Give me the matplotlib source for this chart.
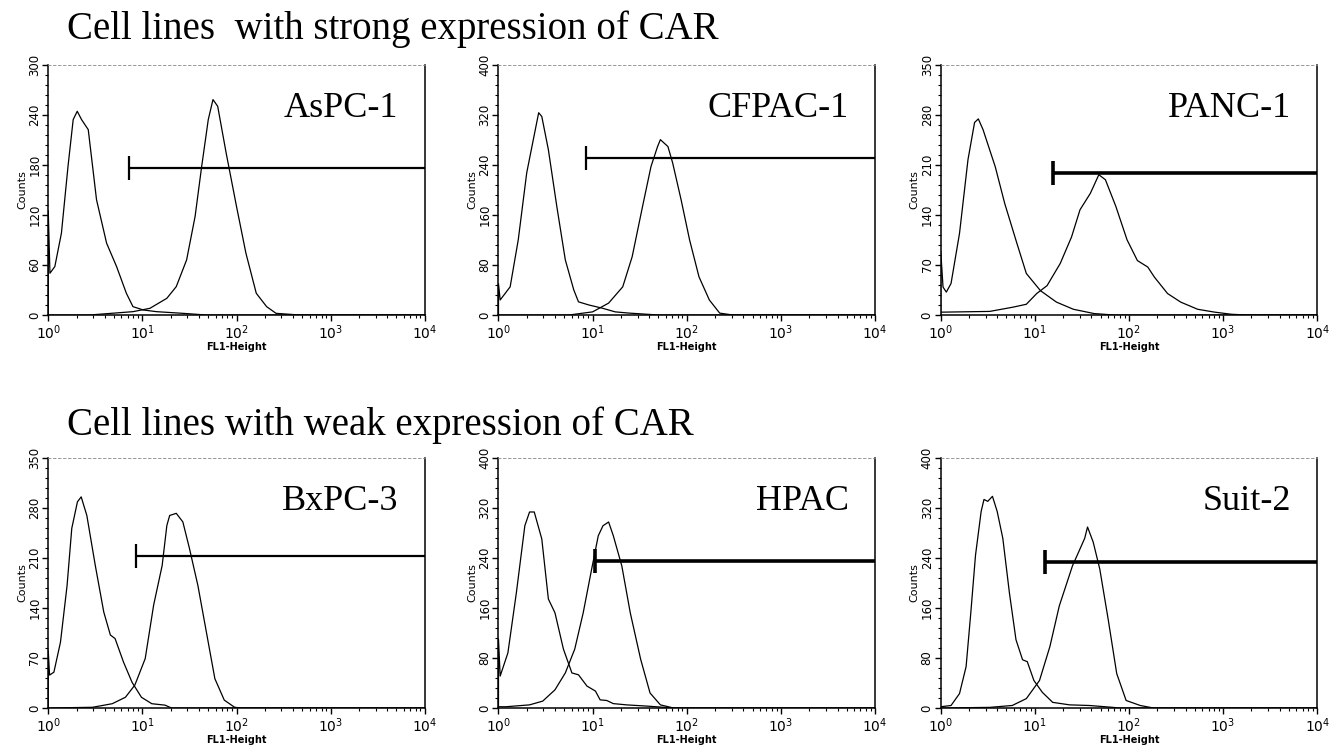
"""
Flow cytometry histograms: CAR expression in six pancreatic cancer cell lines.
Each panel: control (left peak) and anti-CAR stained (right peak), with gate bar.
"""

import numpy as np
import matplotlib
matplotlib.use("Agg")
import matplotlib.pyplot as plt
from matplotlib.ticker import LogLocator, AutoMinorLocator, FixedLocator, NullFormatter

# ── Data (x as log10 FL1-Height, y as counts) ────────────────────────────────
NAMES = ["AsPC-1", "CFPAC-1", "PANC-1", "BxPC-3", "HPAC", "Suit-2"]
YMAX = [300, 400, 350, 350, 400, 400]
YSTEP = [60, 80, 70, 70, 80, 80]

# gate bar: start position (FL1) and height (counts)
GATE_START = [7.2, 8.5, 15.7, 8.5, 10.6, 12.8]
GATE_Y = [176, 250, 198, 213, 235, 233]
GATE_LW = [1.6, 1.6, 2.6, 1.6, 2.6, 2.6]

aspc1_ctrl_x = [0.0, 0.0, 0.018, 0.07, 0.14, 0.21, 0.265, 0.308, 0.354, 0.425, 0.513,
                0.62, 0.726, 0.83, 0.9, 1.01, 1.15, 1.43, 1.68, 4.0]
aspc1_ctrl_y = [0, 125, 50, 58, 98, 178, 234, 244, 234, 222, 138,
                86, 58, 26, 10, 6, 4, 2, 0, 0]
aspc1_car_x = [0.0, 0.44, 0.9, 1.08, 1.26, 1.36, 1.47, 1.56, 1.63, 1.70, 1.75, 1.80,
               1.89, 2.0, 2.1, 2.21, 2.32, 2.42, 2.67, 4.0]
aspc1_car_y = [0, 0, 4, 8, 20, 34, 66, 118, 178, 234, 258, 250,
               194, 130, 74, 26, 10, 2, 0, 0]

cfpac1_ctrl_x = [0.0, 0.0, 0.018, 0.124, 0.21, 0.30, 0.37, 0.427, 0.46, 0.53, 0.62,
                 0.71, 0.80, 0.85, 0.96, 1.10, 1.24, 1.39, 1.7, 4.0]
cfpac1_ctrl_y = [0, 50, 24, 45, 120, 227, 280, 323, 317, 264, 173,
                 88, 40, 21, 16, 11, 5, 3, 0, 0]
cfpac1_car_x = [0.0, 0.75, 1.0, 1.17, 1.32, 1.42, 1.53, 1.62, 1.69, 1.72, 1.80, 1.85,
                1.94, 2.03, 2.13, 2.24, 2.35, 2.49, 4.0]
cfpac1_car_y = [0, 0, 5, 19, 45, 93, 173, 237, 269, 280, 269, 243,
                184, 120, 61, 24, 3, 0, 0]

panc1_ctrl_x = [0.0, 0.0, 0.025, 0.06, 0.11, 0.2, 0.29, 0.36, 0.40, 0.45, 0.58, 0.68,
                0.81, 0.91, 1.06, 1.23, 1.41, 1.63, 1.84, 4.0]
panc1_ctrl_y = [0, 90, 39, 32, 44, 114, 217, 269, 274, 259, 207, 156,
                100, 58, 34, 18, 8, 2, 0, 0]
panc1_car_x = [0.0, 0.025, 0.52, 0.77, 0.91, 1.02, 1.13, 1.27, 1.39, 1.48, 1.59, 1.68,
               1.75, 1.86, 1.98, 2.09, 2.2, 2.27, 2.41, 2.55, 2.73, 2.91, 3.09, 3.26, 4.0]
panc1_car_y = [4, 4, 5, 11, 15, 30, 41, 72, 109, 147, 170, 196,
               189, 152, 105, 76, 67, 53, 30, 18, 8, 4, 1, 0, 0]

bxpc3_ctrl_x = [0.0, 0.0, 0.014, 0.06, 0.13, 0.2, 0.25, 0.31, 0.35, 0.41, 0.50, 0.59,
                0.66, 0.71, 0.80, 0.89, 0.99, 1.10, 1.24, 1.31, 4.0]
bxpc3_ctrl_y = [0, 80, 46, 50, 92, 171, 251, 288, 295, 269, 199, 134,
                102, 97, 64, 36, 15, 6, 4, 0, 0]
bxpc3_car_x = [0.0, 0.47, 0.68, 0.82, 0.92, 1.03, 1.12, 1.21, 1.26, 1.29, 1.36, 1.43,
               1.50, 1.59, 1.68, 1.77, 1.87, 1.98, 2.05, 4.0]
bxpc3_car_y = [0, 1, 6, 15, 32, 69, 144, 199, 255, 269, 272, 260,
               223, 171, 106, 41, 11, 1, 0, 0]

hpac_ctrl_x = [0.0, 0.0, 0.018, 0.1, 0.19, 0.28, 0.33, 0.38, 0.46, 0.53, 0.60, 0.69,
               0.78, 0.85, 0.94, 1.03, 1.08, 1.15, 1.22, 1.36, 1.58, 1.86, 4.0]
hpac_ctrl_y = [0, 110, 51, 88, 184, 291, 313, 313, 270, 174, 152, 94,
               56, 53, 35, 27, 13, 12, 7, 5, 3, 0, 0]
hpac_car_x = [0.0, 0.08, 0.33, 0.47, 0.60, 0.71, 0.81, 0.90, 0.99, 1.06, 1.11, 1.17,
              1.22, 1.31, 1.40, 1.51, 1.61, 1.72, 1.86, 4.0]
hpac_car_y = [2, 2, 5, 11, 29, 56, 94, 152, 222, 275, 291, 297,
              275, 227, 152, 78, 24, 5, 0, 0]

suit2_ctrl_x = [0.0, 0.11, 0.2, 0.27, 0.32, 0.37, 0.43, 0.46, 0.50, 0.55, 0.60, 0.66,
                0.73, 0.80, 0.87, 0.92, 0.99, 1.08, 1.19, 1.37, 1.58, 1.83, 1.90, 4.0]
suit2_ctrl_y = [2, 4, 23, 66, 152, 244, 314, 333, 330, 338, 314, 271,
                184, 109, 77, 74, 44, 25, 9, 5, 4, 1, 0, 0]
suit2_car_x = [0.0, 0.52, 0.76, 0.91, 1.05, 1.16, 1.26, 1.33, 1.40, 1.48, 1.53, 1.56,
               1.62, 1.69, 1.78, 1.87, 1.97, 2.12, 2.26, 4.0]
suit2_car_y = [0, 1, 4, 15, 44, 98, 163, 195, 227, 254, 271, 289,
               265, 222, 141, 55, 12, 4, 0, 0]

CTRL = [(aspc1_ctrl_x, aspc1_ctrl_y), (cfpac1_ctrl_x, cfpac1_ctrl_y),
        (panc1_ctrl_x, panc1_ctrl_y), (bxpc3_ctrl_x, bxpc3_ctrl_y),
        (hpac_ctrl_x, hpac_ctrl_y), (suit2_ctrl_x, suit2_ctrl_y)]
CAR = [(aspc1_car_x, aspc1_car_y), (cfpac1_car_x, cfpac1_car_y),
       (panc1_car_x, panc1_car_y), (bxpc3_car_x, bxpc3_car_y),
       (hpac_car_x, hpac_car_y), (suit2_car_x, suit2_car_y)]

TITLES = ["Cell lines  with strong expression of CAR",
          "Cell lines with weak expression of CAR"]

# ── Layout (figure fractions) ────────────────────────────────────────────────
LEFTS = [0.036, 0.372, 0.702]
BOTTOMS = [0.580, 0.056]
W, H = 0.281, 0.334

SERIF = ["Liberation Serif", "DejaVu Serif"]

fig = plt.figure(figsize=(13.4, 7.5), dpi=100)
fig.patch.set_facecolor("white")

for i, name in enumerate(NAMES):
    row, col = divmod(i, 3)
    ax = fig.add_axes([LEFTS[col], BOTTOMS[row], W, H])

    for (lx, cy) in (CTRL[i], CAR[i]):
        ax.plot(10 ** np.asarray(lx), cy, color="black", lw=0.9)

    # gate bar with end cap
    ax.plot([GATE_START[i], 1e4], [GATE_Y[i], GATE_Y[i]], color="black",
            lw=GATE_LW[i], solid_capstyle="butt", clip_on=False)
    ax.plot([GATE_START[i]], [GATE_Y[i]], marker="|", color="black",
            ms=17, mew=GATE_LW[i])

    ax.set_xscale("log")
    ax.set_xlim(1, 1e4)
    ax.set_ylim(0, YMAX[i])

    ax.xaxis.set_minor_locator(LogLocator(base=10, subs=np.arange(2, 10), numticks=20))
    ax.xaxis.set_minor_formatter(NullFormatter())
    ax.set_xticks([1, 10, 100, 1000, 10000])
    ax.set_xticklabels([r"$10^0$", r"$10^1$", r"$10^2$", r"$10^3$", r"$10^4$"],
                       fontsize=10)
    ax.yaxis.set_major_locator(FixedLocator(np.arange(0, YMAX[i] + 1, YSTEP[i])))
    ax.yaxis.set_minor_locator(AutoMinorLocator(5))
    for lab in ax.get_yticklabels():
        lab.set_rotation(90)
        lab.set_va("center")
        lab.set_fontsize(8.5)

    ax.tick_params(axis="both", which="major", direction="out", length=4,
                   width=1.0, pad=2)
    ax.tick_params(axis="both", which="minor", direction="out", length=2.5,
                   width=0.8)
    ax.tick_params(axis="y", pad=1)

    ax.set_xlabel("FL1-Height", fontsize=7, fontweight="bold", labelpad=0)
    ax.set_ylabel("Counts", fontsize=8, labelpad=1)

    for side in ("left", "bottom", "right"):
        ax.spines[side].set_linewidth(1.1)
    ax.spines["top"].set_linestyle((0, (3, 3)))
    ax.spines["top"].set_color("#888888")
    ax.spines["top"].set_linewidth(0.6)

    ax.text(0.93, 0.79, name, transform=ax.transAxes, ha="right", va="baseline",
            fontsize=26, family=SERIF)

fig.text(0.050, 0.948, TITLES[0], fontsize=28, family=SERIF, va="baseline")
fig.text(0.050, 0.420, TITLES[1], fontsize=28, family=SERIF, va="baseline")

fig.savefig("out.png", dpi=100, facecolor=fig.get_facecolor())
plt.close(fig)
